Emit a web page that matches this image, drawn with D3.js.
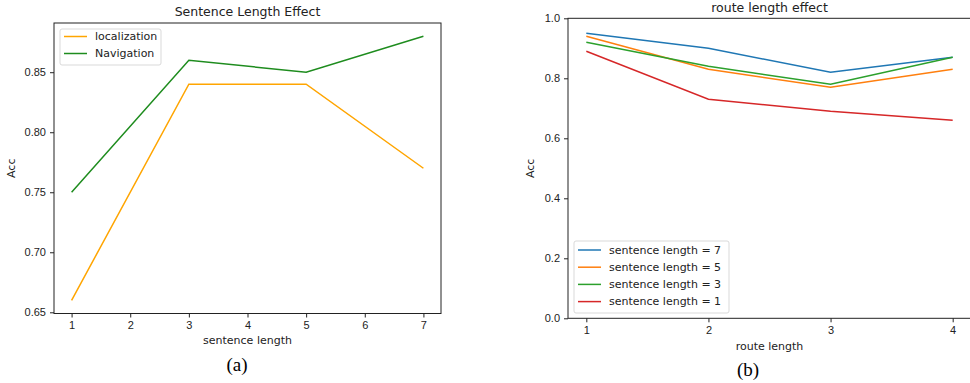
<!DOCTYPE html>
<html>
<head>
<meta charset="utf-8">
<script src="https://cdn.jsdelivr.net/npm/d3@7"></script>
<style>
  body { margin: 0; background: #fff; }
  svg { display: block; font-family: "DejaVu Sans", sans-serif; }
  .tick text { font-size: 11px; fill: #222; }
</style>
</head>
<body>
<svg id="chart" width="970" height="383"></svg>
<script>
// (a) sentence length effect
var sentenceLengths = [1, 3, 5, 7];
var sentenceTicks = [1, 2, 3, 4, 5, 6, 7];
var localizationAcc = [0.66, 0.84, 0.84, 0.77];
var navigationAcc = [0.75, 0.86, 0.85, 0.88];
var leftYTicks = [0.65, 0.70, 0.75, 0.80, 0.85];

// (b) route length effect
var routeLengths = [1, 2, 3, 4];
var sl7Acc = [0.95, 0.90, 0.82, 0.87];
var sl5Acc = [0.94, 0.83, 0.77, 0.83];
var sl3Acc = [0.92, 0.84, 0.78, 0.87];
var sl1Acc = [0.89, 0.73, 0.69, 0.66];
var rightYTicks = [0.0, 0.2, 0.4, 0.6, 0.8, 1.0];

var svg = d3.select("#chart");

function drawPanel(opts) {
    var g = svg.append("g");
    var x = d3.scaleLinear().domain(opts.xDomain).range([opts.left, opts.right]);
    var y = d3.scaleLinear().domain(opts.yDomain).range([opts.bottom, opts.top]);

    g.append("g")
        .attr("transform", "translate(0," + opts.bottom + ")")
        .call(d3.axisBottom(x).tickValues(opts.xTicks).tickFormat(d3.format("d")).tickSizeOuter(0).tickSize(4).tickPadding(4))
        .call(function(a) { a.select(".domain").remove(); a.selectAll("line").attr("stroke", "#222"); });

    g.append("g")
        .attr("transform", "translate(" + opts.left + ",0)")
        .call(d3.axisLeft(y).tickValues(opts.yTicks).tickFormat(d3.format(opts.yFormat)).tickSizeOuter(0).tickSize(4).tickPadding(4))
        .call(function(a) { a.select(".domain").remove(); a.selectAll("line").attr("stroke", "#222"); });

    // frame
    g.append("rect")
        .attr("x", opts.left).attr("y", opts.top)
        .attr("width", opts.right - opts.left).attr("height", opts.bottom - opts.top)
        .attr("fill", "none").attr("stroke", "#222").attr("stroke-width", 1);

    var line = d3.line()
        .x(function(d) { return x(d[0]); })
        .y(function(d) { return y(d[1]); });

    opts.series.forEach(function(s) {
        g.append("path")
            .datum(opts.xs.map(function(v, i) { return [v, s.values[i]]; }))
            .attr("fill", "none")
            .attr("stroke", s.color)
            .attr("stroke-width", 1.5)
            .attr("d", line);
    });

    // title and labels
    g.append("text").attr("x", (opts.left + opts.right) / 2).attr("y", opts.titleY)
        .attr("text-anchor", "middle").attr("font-size", 12.5).attr("fill", "#222").text(opts.title);
    g.append("text").attr("x", (opts.left + opts.right) / 2).attr("y", opts.xLabelY)
        .attr("text-anchor", "middle").attr("font-size", 11).attr("fill", "#222").text(opts.xLabel);
    g.append("text")
        .attr("transform", "translate(" + opts.yLabelX + "," + ((opts.top + opts.bottom) / 2) + ") rotate(-90)")
        .attr("text-anchor", "middle").attr("font-size", 11).attr("fill", "#222").text("Acc");
    g.append("text").attr("x", opts.captionX).attr("y", opts.captionY)
        .attr("text-anchor", "middle").attr("font-family", "'Liberation Serif', serif")
        .attr("font-size", 19).attr("fill", "#000").text(opts.caption);

    // legend
    var lg = opts.legend;
    g.append("rect")
        .attr("x", lg.x).attr("y", lg.y).attr("width", lg.w).attr("height", lg.h)
        .attr("rx", 2).attr("fill", "#fff").attr("fill-opacity", 0.8)
        .attr("stroke", "#d9d9d9").attr("stroke-width", 1);
    opts.series.forEach(function(s, i) {
        var cy = lg.y + lg.first + i * lg.step;
        g.append("line").attr("x1", lg.x + 4).attr("x2", lg.x + 27)
            .attr("y1", cy).attr("y2", cy).attr("stroke", s.color).attr("stroke-width", 1.5);
        g.append("text").attr("x", lg.x + 35).attr("y", cy).attr("dy", "0.35em")
            .attr("font-size", 11).attr("fill", "#222").text(s.name);
    });
}

drawPanel({
    left: 54, right: 441, top: 23, bottom: 313.5,
    xDomain: [0.7, 7.3], yDomain: [0.649, 0.891],
    xs: sentenceLengths, xTicks: sentenceTicks, yTicks: leftYTicks, yFormat: ".2f",
    series: [
        { name: "localization", values: localizationAcc, color: "#ffa500" },
        { name: "Navigation", values: navigationAcc, color: "#1e8c1e" }
    ],
    title: "Sentence Length Effect", titleY: 16,
    xLabel: "sentence length", xLabelY: 344, yLabelX: 15,
    caption: "(a)", captionX: 237, captionY: 371,
    legend: { x: 60, y: 29, w: 101, h: 36, first: 7.5, step: 17 }
});

drawPanel({
    left: 568, right: 971, top: 18.3, bottom: 318.3,
    xDomain: [0.85, 4.15], yDomain: [0, 1],
    xs: routeLengths, xTicks: routeLengths, yTicks: rightYTicks, yFormat: ".1f",
    series: [
        { name: "sentence length = 7", values: sl7Acc, color: "#1f77b4" },
        { name: "sentence length = 5", values: sl5Acc, color: "#ff7f0e" },
        { name: "sentence length = 3", values: sl3Acc, color: "#2ca02c" },
        { name: "sentence length = 1", values: sl1Acc, color: "#d62728" }
    ],
    title: "route length effect", titleY: 12,
    xLabel: "route length", xLabelY: 350, yLabelX: 534,
    caption: "(b)", captionX: 748, captionY: 376,
    legend: { x: 574, y: 241, w: 155, h: 72, first: 9, step: 17.2 }
});
</script>
</body>
</html>
